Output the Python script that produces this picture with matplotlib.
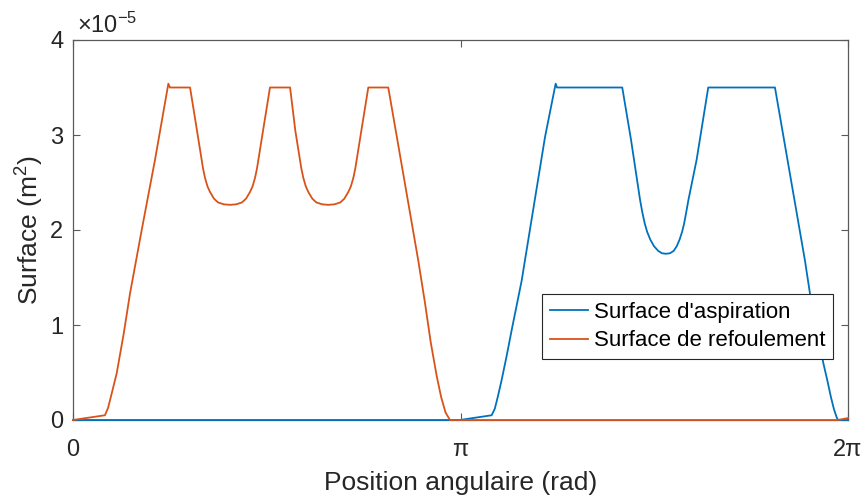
import numpy as np
import matplotlib
matplotlib.use("Agg")
import matplotlib.pyplot as plt

# values, x in rad, y in units of 1e-5 m^2
x_refoul = [0.0, 0.259, 0.285, 0.310, 0.354, 0.410, 0.462, 0.557, 0.665, 0.773, 0.786, 0.949,
            1.006, 1.054, 1.070, 1.090, 1.111, 1.143, 1.176, 1.224, 1.273, 1.322, 1.370,
            1.403, 1.435, 1.456, 1.476, 1.492, 1.540, 1.597, 1.760,
            1.803, 1.851, 1.867, 1.887, 1.908, 1.940, 1.973, 2.021, 2.070, 2.119, 2.167,
            2.200, 2.232, 2.253, 2.273, 2.289, 2.337, 2.394, 2.556,
            2.799, 2.854, 2.900, 2.949, 2.985, 3.020, 3.056, 6.200, 6.283]
y_refoul = [0.0, 0.05, 0.13, 0.26, 0.49, 0.90, 1.33, 2.00, 2.74, 3.54, 3.50, 3.50,
            3.04, 2.65, 2.55, 2.46, 2.40, 2.33, 2.29, 2.27, 2.265, 2.27, 2.29,
            2.33, 2.40, 2.46, 2.55, 2.65, 3.04, 3.50, 3.50,
            3.04, 2.65, 2.55, 2.46, 2.40, 2.33, 2.29, 2.27, 2.265, 2.27, 2.29,
            2.33, 2.40, 2.46, 2.55, 2.65, 3.04, 3.50, 3.50,
            1.68, 1.23, 0.82, 0.46, 0.24, 0.08, 0.0, 0.0, 0.02]

x_aspi = [0.0, 3.137, 3.394, 3.420, 3.445, 3.475, 3.515, 3.557, 3.638, 3.664, 3.827, 3.913, 3.924,
          4.453, 4.524, 4.597, 4.615, 4.635, 4.655, 4.680, 4.710, 4.745, 4.775, 4.808, 4.840,
          4.870, 4.895, 4.918, 4.938, 4.955, 4.972, 4.990, 5.056, 5.150, 5.691,
          5.934, 5.975, 6.030, 6.083, 6.115, 6.145, 6.170, 6.191, 6.202, 6.283]
y_aspi = [0.0, 0.0, 0.05, 0.12, 0.25, 0.42, 0.67, 0.95, 1.47, 1.68, 2.98, 3.54, 3.50,
          3.50, 2.95, 2.32, 2.19, 2.07, 1.98, 1.90, 1.83, 1.78, 1.755, 1.75, 1.755,
          1.78, 1.83, 1.90, 1.98, 2.07, 2.19, 2.32, 2.74, 3.50, 3.50,
          1.68, 1.33, 0.95, 0.60, 0.42, 0.24, 0.11, 0.03, 0.0, 0.0]

x_ticks = [0, np.pi, 2 * np.pi]
x_ticklabels = ["0", "π", "2π"]
y_ticks = [0, 1, 2, 3, 4]

plt.rcParams['font.family'] = ['Liberation Sans', 'DejaVu Sans']
plt.rcParams['mathtext.fontset'] = 'custom'
plt.rcParams['mathtext.rm'] = 'Liberation Sans'
plt.rcParams['mathtext.it'] = 'Liberation Sans'

txt = '#262626'
edge = '#5a5a5a'

fig = plt.figure(figsize=(8.65, 5.03), dpi=100)
ax = fig.add_axes([73 / 865, 83 / 503, 775 / 865, 380 / 503])

ax.plot(x_aspi, y_aspi, color='#0072BD', lw=1.3, label="Surface d'aspiration",
        clip_on=False, zorder=3)
ax.plot(x_refoul, y_refoul, color='#D95319', lw=1.3, label="Surface de refoulement",
        clip_on=False, zorder=3)

ax.set_xlim(0, 2 * np.pi)
ax.set_ylim(0, 4)
ax.set_xticks(x_ticks)
ax.set_xticklabels(x_ticklabels)
ax.set_yticks(y_ticks)
ax.tick_params(direction='in', length=5, width=0.8, color=edge, labelcolor=txt,
               labelsize=17, top=True, right=True)
ax.tick_params(axis='x', pad=14)
ax.tick_params(axis='y', pad=7)
for s in ax.spines.values():
    s.set_color(edge)
    s.set_linewidth(0.9)

ax.set_xlabel("Position angulaire (rad)", fontsize=19, color=txt, labelpad=7)
ax.set_ylabel(r"Surface (m$^2$)", fontsize=19, color=txt, labelpad=3)
ax.text(0.005, 1.005, r"$\times10^{-5}$", transform=ax.transAxes, fontsize=17,
        color=txt, ha='left', va='bottom')

leg = ax.legend(loc='upper right', bbox_to_anchor=(0.981, 0.332), borderaxespad=0,
                fancybox=False, fontsize=16, handlelength=1.75, handletextpad=0.25,
                labelspacing=0.35, borderpad=0.35, framealpha=1)
leg.get_frame().set_edgecolor('#262626')
leg.get_frame().set_linewidth(0.8)
for t in leg.get_texts():
    t.set_color('black')

fig.savefig("out.png", dpi=100)
